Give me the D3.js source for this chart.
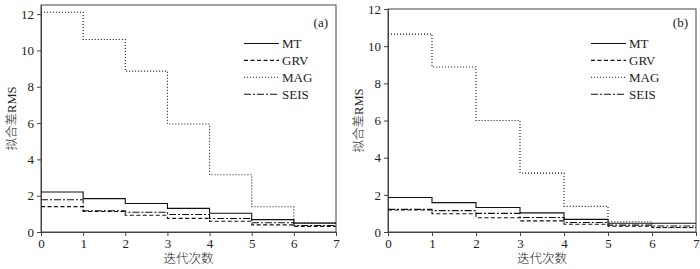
<!DOCTYPE html>
<html>
<head>
<meta charset="utf-8">
<script src="https://cdn.jsdelivr.net/npm/d3@7"></script>
<style>
  body { margin: 0; background: #fff; }
  svg text { font-family: "Liberation Serif", "Noto Sans CJK SC", serif; fill: #222; }
  .axis path, .axis line { stroke: #444; }
</style>
</head>
<body>
<svg id="chart" width="700" height="269"></svg>
<script>
// step values per iteration (value held from i to i+1)
const iterations = [0, 1, 2, 3, 4, 5, 6]
const seriesNames = ["MT", "GRV", "MAG", "SEIS"]

const mtA   = [2.2, 1.84, 1.57, 1.3, 1.03, 0.68, 0.49]
const grvA  = [1.4, 1.13, 0.92, 0.75, 0.59, 0.39, 0.31]
const magA  = [12.1, 10.6, 8.86, 5.95, 3.15, 1.39, 0.51]
const seisA = [1.78, 1.17, 1.09, 0.96, 0.74, 0.51, 0.36]

const mtB   = [1.86, 1.58, 1.32, 1.03, 0.68, 0.47, 0.47]
const grvB  = [1.18, 0.98, 0.77, 0.6, 0.42, 0.31, 0.24]
const magB  = [10.65, 8.88, 6.0, 3.17, 1.38, 0.55, 0.23]
const seisB = [1.22, 1.15, 1.0, 0.78, 0.51, 0.37, 0.32]

const xTicks = [0, 1, 2, 3, 4, 5, 6, 7]
const yTicks = [0, 2, 4, 6, 8, 10, 12]

const dashes = {
  MT: null,
  GRV: "4,2.5",
  MAG: "1,2",
  SEIS: "7,2,2,2"
}

const svg = d3.select("#chart")

function panel(opts) {
  const {left, right, top, bottom, yMax, series, tag} = opts
  const x = d3.scaleLinear().domain([0, 7]).range([left, right])
  const y = d3.scaleLinear().domain([0, yMax]).range([bottom, top])
  const g = svg.append("g")

  g.append("g")
    .attr("class", "axis")
    .attr("transform", "translate(0," + bottom + ")")
    .call(d3.axisBottom(x).tickValues(xTicks).tickSize(4).tickSizeOuter(0).tickFormat(d3.format("d")))
    .call(s => s.selectAll("text").attr("font-size", 13))

  g.append("g")
    .attr("class", "axis")
    .attr("transform", "translate(" + left + ",0)")
    .call(d3.axisLeft(y).tickValues(yTicks).tickSize(4).tickSizeOuter(0).tickFormat(d3.format("d")))
    .call(s => s.selectAll("text").attr("font-size", 13))

  // frame
  g.append("rect")
    .attr("x", left).attr("y", top)
    .attr("width", right - left).attr("height", bottom - top)
    .attr("fill", "none").attr("stroke", "#444").attr("stroke-width", 1)

  const line = d3.line()
    .x(d => x(d[0]))
    .y(d => y(d[1]))
    .curve(d3.curveStepAfter)

  seriesNames.forEach((name, i) => {
    const vals = series[i]
    const pts = iterations.map((it, k) => [it, vals[k]])
    pts.push([7, vals[vals.length - 1]])
    g.append("path")
      .attr("d", line(pts))
      .attr("fill", "none")
      .attr("stroke", "#111")
      .attr("stroke-width", 1.1)
      .attr("stroke-dasharray", dashes[name])
  })

  // legend
  const lg = g.append("g")
  seriesNames.forEach((name, i) => {
    const ly = 43.5 + i * 16.9
    lg.append("line")
      .attr("x1", opts.legX).attr("x2", opts.legX + 35)
      .attr("y1", ly).attr("y2", ly)
      .attr("stroke", "#111").attr("stroke-width", 1.1)
      .attr("stroke-dasharray", dashes[name])
    lg.append("text")
      .attr("x", opts.legX + 38).attr("y", ly)
      .attr("dy", "0.35em")
      .attr("font-size", 13)
      .text(name)
  })

  g.append("text")
    .attr("x", right - 8).attr("y", 22)
    .attr("dy", "0.35em")
    .attr("text-anchor", "end")
    .attr("font-size", 13)
    .text(tag)

  g.append("text")
    .attr("x", (left + right) / 2).attr("y", 259)
    .attr("dy", "0.35em")
    .attr("text-anchor", "middle")
    .attr("font-size", 12.5)
    .attr("font-weight", 300)
    .text("迭代次数")

  g.append("text")
    .attr("transform", "translate(" + (left - 29) + "," + (top + bottom) / 2 + ") rotate(-90)")
    .attr("dy", "0.35em")
    .attr("text-anchor", "middle")
    .attr("font-size", 12.5)
    .attr("font-weight", 300)
    .text("拟合差RMS")
}

panel({left: 41, right: 336, top: 5, bottom: 232, yMax: 12.5,
  series: [mtA, grvA, magA, seisA], tag: "(a)", legX: 244})
panel({left: 388, right: 696, top: 9, bottom: 232, yMax: 12,
  series: [mtB, grvB, magB, seisB], tag: "(b)", legX: 591})
</script>
</body>
</html>
